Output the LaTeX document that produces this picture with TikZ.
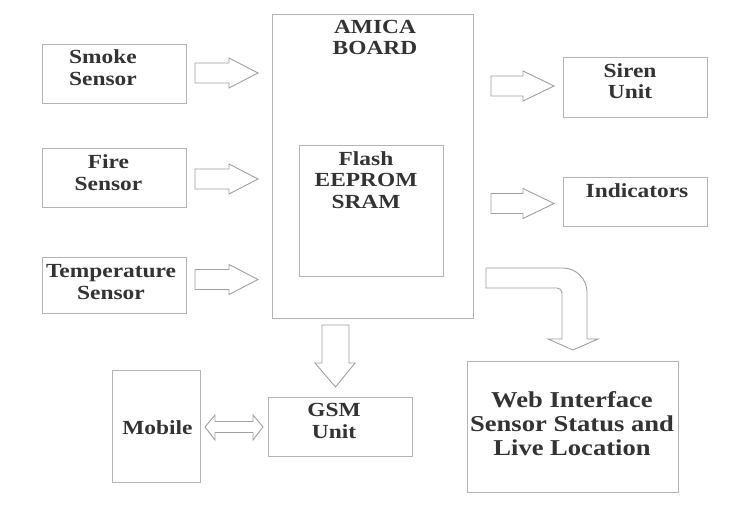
\documentclass[tikz,border=0pt]{standalone}
\usepackage{fontspec}
\setmainfont{Liberation Serif}[FakeStretch=1.17]
\definecolor{boxgray}{HTML}{B4B4B4}
\definecolor{txtgray}{HTML}{333333}
\definecolor{arrgray}{HTML}{A0A0A0}
\newcommand{\blkright}[4]{% x1, xhead, x2, yc
  \draw[blk] (#1,#4-10) -- (#2,#4-10) -- (#2,#4-15) -- (#3,#4) -- (#2,#4+15) -- (#2,#4+10) -- (#1,#4+10) -- cycle;}
\begin{document}
\begin{tikzpicture}[x=1pt,y=-1pt,
  box/.style={draw=boxgray, line width=1.1pt, inner sep=0pt, anchor=north west},
  lbl/.style={text=txtgray, font=\bfseries\fontsize{20}{21.5}\selectfont, align=center, inner sep=0pt, anchor=base},
  weblbl/.style={lbl, font=\bfseries\fontsize{22.7}{24}\selectfont},
  blk/.style={draw=arrgray, line width=0.9pt, fill=white, line join=miter}]
\useasboundingbox (0,0) rectangle (748,519);
\fill[white] (0,0) rectangle (748,519);
% boxes
\node[box, minimum width=144pt, minimum height=59pt] (smoke) at (42,44) {};
\node[box, minimum width=144pt, minimum height=59pt] (fire) at (42,148) {};
\node[box, minimum width=144pt, minimum height=56pt] (temp) at (42,257) {};
\node[box, minimum width=201pt, minimum height=304pt] (amica) at (272,14) {};
\node[box, minimum width=144pt, minimum height=131pt] (flash) at (299,145) {};
\node[box, minimum width=144pt, minimum height=60pt] (siren) at (563,57) {};
\node[box, minimum width=144pt, minimum height=49pt] (ind) at (563,177) {};
\node[box, minimum width=211pt, minimum height=131pt] (web) at (467,361) {};
\node[box, minimum width=88pt, minimum height=112pt] (mobile) at (112,370) {};
\node[box, minimum width=144pt, minimum height=59pt] (gsm) at (268,397) {};
% labels (base anchor = baseline of last line)
\node[lbl] (smoketxt) at (103,85) {Smoke\\Sensor};
\node[lbl] (firetxt) at (108.5,190) {Fire\\Sensor};
\node[lbl] (temptxt) at (111,299) {Temperature\\Sensor};
\node[lbl] (amicatxt) at (375,55) {AMICA\\BOARD};
\node[lbl] (flashtxt) at (366,208) {Flash\\EEPROM\\SRAM};
\node[lbl] (sirentxt) at (630,99) {Siren\\Unit};
\node[lbl] (indtxt) at (637,197) {Indicators};
\node[lbl] (mobiletxt) at (157.5,434) {Mobile};
\node[lbl] (gsmtxt) at (334,438) {GSM\\Unit};
\node[weblbl] (webtxt) at (572,455) {Web Interface\\Sensor Status and\\Live Location};
% block arrows
\blkright{195}{229}{258}{73}
\blkright{195}{229}{258}{179}
\blkright{195}{229}{258}{279.5}
\blkright{491}{523}{554}{86}
\blkright{491}{523}{554}{203.5}
% down arrow
\draw[blk] (322,325) -- (349,325) -- (349,363) -- (355,363) -- (335.5,387) -- (315,363) -- (322,363) -- cycle;
% double arrow
\draw[blk] (205,427) -- (215,415) -- (215,421.5) -- (253,421.5) -- (253,415) -- (263,427) -- (253,440) -- (253,432.5) -- (215,432.5) -- (215,440) -- cycle;
% bent arrow
\draw[blk] (486,268) -- (563,268) .. controls (576,268) and (587,279) .. (587,292) -- (587,339) -- (598,339) -- (573,350) -- (548,339) -- (562,339) -- (562,293) .. controls (562,290) and (560,288) .. (557,288) -- (486,288) -- cycle;
\end{tikzpicture}
\end{document}
